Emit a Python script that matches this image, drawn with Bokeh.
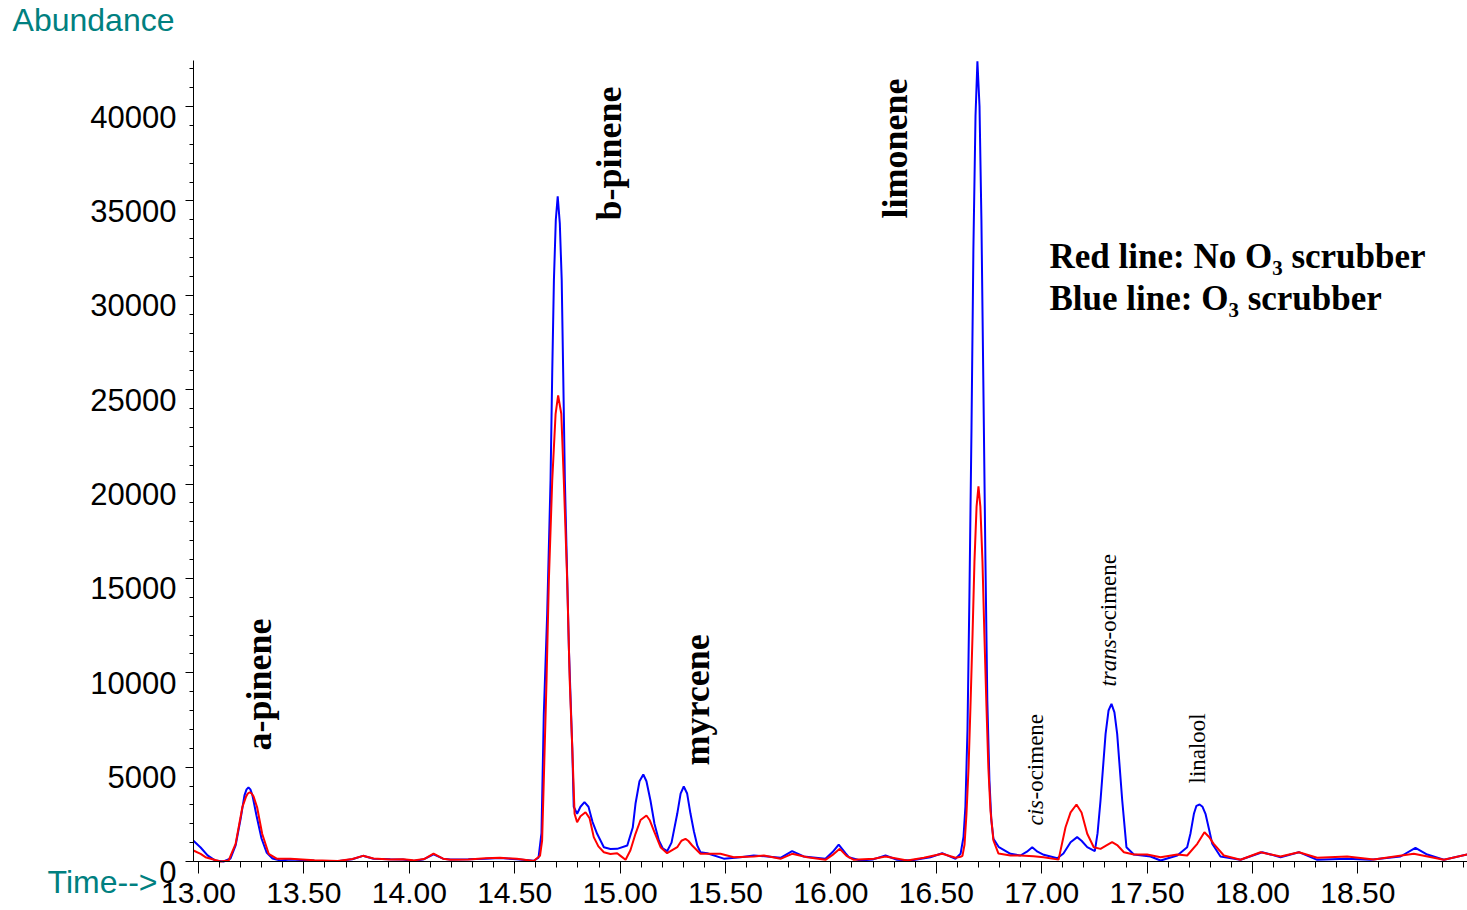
import numpy as np
from bokeh.plotting import figure
from bokeh.models import Range1d, FixedTicker, NumeralTickFormatter
from bokeh.core.properties import value
from bokeh.embed import file_html
from bokeh.resources import INLINE

# ---- data (retention time in min, abundance) ----
blue_time = [12.976, 13.010, 13.043, 13.080, 13.119, 13.152, 13.176, 13.200, 13.218, 13.228, 13.237,
             13.246, 13.256, 13.275, 13.299, 13.323, 13.351, 13.389, 13.436, 13.550, 13.660, 13.730,
             13.780, 13.830, 13.910, 13.970, 14.020, 14.070, 14.115, 14.160, 14.195, 14.280,
             14.360, 14.430, 14.510, 14.590, 14.613, 14.627, 14.638, 14.654, 14.670, 14.678,
             14.686, 14.695, 14.704, 14.714, 14.723, 14.730, 14.738, 14.757, 14.773, 14.780,
             14.796, 14.812, 14.831, 14.850, 14.869, 14.891, 14.923, 14.954, 14.986, 15.034,
             15.060, 15.073, 15.092, 15.110, 15.125, 15.144, 15.163, 15.184, 15.202, 15.223,
             15.244, 15.271, 15.287, 15.302, 15.318, 15.334, 15.350, 15.366, 15.381, 15.413,
             15.492, 15.571, 15.634, 15.698, 15.761, 15.816, 15.871, 15.974, 16.008, 16.037,
             16.069, 16.085, 16.140, 16.197, 16.259, 16.314, 16.378, 16.472, 16.528, 16.591,
             16.615, 16.629, 16.638, 16.648, 16.657, 16.667, 16.676, 16.686, 16.695, 16.705,
             16.714, 16.723, 16.733, 16.742, 16.752, 16.761, 16.771, 16.797, 16.852, 16.899,
             16.930, 16.955, 16.980, 17.010, 17.074, 17.103, 17.137, 17.168, 17.189, 17.216,
             17.252, 17.265, 17.279, 17.303, 17.317, 17.331, 17.345, 17.358, 17.382, 17.402,
             17.437, 17.516, 17.564, 17.643, 17.690, 17.706, 17.722, 17.734, 17.749, 17.763,
             17.777, 17.794, 17.809, 17.848, 17.943, 18.046, 18.133, 18.220, 18.307, 18.449,
             18.560, 18.702, 18.773, 18.829, 18.908, 19.019]
blue_abund = [1100, 740, 320, 50, 0, 160, 850, 2280, 3500, 3820, 3920,
              3820, 3500, 2440, 1220, 480, 160, 50, 100, 40, 20, 120,
              300, 150, 120, 100, 30, 120, 380, 150, 100, 120,
              150, 180, 120, 40, 200, 1500, 7800, 13100, 20200, 25900,
              30800, 34000, 35240, 33800, 30800, 25900, 20200, 11300, 6056, 2900,
              2527, 2900, 3142, 2900, 2100, 1467, 758, 660, 670, 848,
              1800, 3057, 4250, 4610, 4250, 3230, 2000, 1113, 700, 546,
              1000, 2527, 3600, 3973, 3600, 2527, 1600, 848, 493, 440,
              150, 228, 318, 265, 196, 546, 265, 143, 500, 900,
              450, 228, 53, 100, 318, 90, 53, 228, 440, 143,
              408, 1300, 2900, 7000, 14000, 23000, 32500, 39500, 42400, 40000,
              34000, 25500, 16000, 8500, 4300, 2200, 1200, 758, 408, 318,
              520, 758, 520, 355, 175, 420, 1023, 1290, 1100, 758,
              546, 1500, 3230, 6765, 8000, 8355, 7900, 6765, 3230, 758,
              370, 265, 53, 318, 758, 1500, 2527, 2950, 3020, 2900,
              2527, 1700, 937, 265, 90, 493, 228, 493, 90, 143,
              90, 265, 726, 370, 90, 370]

red_time = [12.976, 13.010, 13.033, 13.104, 13.143, 13.176, 13.208, 13.226, 13.234, 13.243, 13.252,
            13.261, 13.278, 13.302, 13.333, 13.373, 13.436, 13.550, 13.660, 13.730, 13.780, 13.830,
            13.910, 13.970, 14.020, 14.070, 14.115, 14.160, 14.195, 14.280, 14.360, 14.430,
            14.510, 14.590, 14.620, 14.630, 14.638, 14.651, 14.662, 14.678, 14.694, 14.706,
            14.721, 14.733, 14.749, 14.761, 14.773, 14.784, 14.796, 14.812, 14.836, 14.855,
            14.875, 14.897, 14.923, 14.954, 14.986, 15.002, 15.026, 15.049, 15.073, 15.097,
            15.125, 15.140, 15.160, 15.192, 15.223, 15.271, 15.291, 15.310, 15.323, 15.342,
            15.381, 15.476, 15.539, 15.634, 15.682, 15.761, 15.816, 15.888, 15.974, 16.008,
            16.042, 16.074, 16.109, 16.204, 16.259, 16.362, 16.441, 16.528, 16.591, 16.615,
            16.624, 16.634, 16.643, 16.653, 16.662, 16.672, 16.681, 16.691, 16.700, 16.709,
            16.719, 16.728, 16.738, 16.747, 16.757, 16.771, 16.795, 16.852, 16.899, 16.961,
            17.009, 17.080, 17.113, 17.137, 17.165, 17.189, 17.216, 17.247, 17.279, 17.307,
            17.334, 17.360, 17.390, 17.437, 17.500, 17.564, 17.643, 17.690, 17.738, 17.772,
            17.794, 17.816, 17.864, 17.943, 18.038, 18.133, 18.220, 18.307, 18.449, 18.575,
            18.765, 18.908, 19.019]
red_abund = [583, 400, 228, 0, 53, 937, 2877, 3450, 3600, 3670, 3600,
             3450, 2877, 1467, 408, 143, 143, 60, 30, 130, 300, 160,
             100, 120, 60, 130, 420, 150, 90, 110, 170, 200,
             140, 30, 300, 1113, 4290, 9590, 14890, 20190, 23720, 24690,
             23720, 20190, 14890, 9590, 6056, 2527, 2082, 2400, 2612, 2300,
             1290, 800, 493, 400, 440, 300, 90, 600, 1467, 2200,
             2437, 2200, 1642, 758, 440, 758, 1100, 1202, 1100, 848,
             408, 408, 228, 265, 318, 143, 408, 228, 90, 350,
             670, 300, 90, 143, 265, 53, 196, 408, 196, 250,
             300, 900, 2500, 4950, 8200, 12050, 15900, 18800, 19870, 18800,
             15900, 12050, 8200, 4950, 2700, 1113, 420, 318, 318, 280,
             230, 100, 1817, 2600, 3020, 2600, 1467, 758, 670, 850,
             1023, 850, 493, 370, 370, 228, 370, 318, 937, 1553,
             1300, 937, 318, 90, 493, 265, 493, 196, 265, 106,
             408, 90, 370]

x_major_ticks = [13.0, 13.5, 14.0, 14.5, 15.0, 15.5, 16.0, 16.5, 17.0, 17.5, 18.0, 18.5]
x_minor_ticks = [round(13.0 + 0.1 * i, 1) for i in range(61)]
y_major_ticks = [0, 5000, 10000, 15000, 20000, 25000, 30000, 35000, 40000]
y_tick_labels = ["0", "5000", "10000", "15000", "20000", "25000", "30000", "35000", "40000"]
y_minor_ticks = list(range(0, 43000, 1000))

# axis extents (time axis starts slightly before 13.00; abundance axis ends at ~42440)
t_axis_start, t_axis_end = 12.976, 19.02
a_axis_end = 42440

# peak names: label, time, abundance where the rotated text begins
big_names = ["a-pinene", "b-pinene", "myrcene", "limonene"]
big_name_t = [13.285, 14.945, 15.367, 16.306]
big_name_y = [5880, 33960, 5086, 34066]

TEAL = "#008080"
SERIF = "Liberation Serif"
SANS = "Liberation Sans"

# frame covers the whole canvas; axes are pinned at t=12.976 and abundance=0
p = figure(width=1467, height=910,
           x_range=Range1d(12.0607, 19.0199), y_range=Range1d(-2596, 45616),
           output_backend="svg", toolbar_location=None,
           min_border=0, min_border_left=0, min_border_right=0,
           min_border_top=0, min_border_bottom=0)
p.outline_line_color = None
p.grid.visible = False
p.background_fill_color = "white"
p.border_fill_color = "white"

xa = p.xaxis[0]
xa.fixed_location = 0
xa.bounds = (t_axis_start, t_axis_end)
xa.ticker = FixedTicker(ticks=x_major_ticks, minor_ticks=x_minor_ticks)
xa.formatter = NumeralTickFormatter(format="0.00")
xa.major_tick_out = 12
xa.major_tick_in = 0
xa.minor_tick_out = 6
xa.minor_tick_in = 0
xa.major_label_standoff = 9
xa.major_label_text_font = SANS
xa.major_label_text_font_size = "30px"
xa.major_label_text_color = "black"
xa.axis_line_color = "black"

ya = p.yaxis[0]
ya.fixed_location = t_axis_start
ya.bounds = (0, a_axis_end)
ya.ticker = FixedTicker(ticks=y_major_ticks, minor_ticks=y_minor_ticks)
ya.major_label_overrides = {v: "" for v in y_major_ticks}
ya.major_tick_out = 8
ya.major_tick_in = 0
ya.minor_tick_out = 4
ya.minor_tick_in = 0
ya.axis_line_color = "black"

# abundance tick labels sit just below their ticks, as in the original software
p.text(x=[t_axis_start] * len(y_major_ticks), y=y_major_ticks, text=y_tick_labels,
       x_offset=-17, y_offset=10, text_align="right", text_baseline="middle",
       text_font=value(SANS), text_font_size="31px", text_color="black")

p.line(blue_time, blue_abund, line_color="#0000FF", line_width=2)
p.line(red_time, red_abund, line_color="#FF0000", line_width=2)

# rotated bold peak names
p.text(x=big_name_t, y=big_name_y, text=big_names, angle=np.pi / 2,
       text_align="left", text_baseline="middle",
       text_font=value(SERIF), text_font_style="bold", text_font_size="36px",
       text_color="black")

# smaller peak names (italic prefixes)
p.text(x=[16.971, 17.317], y=[1907, 9270], text=["cis", "trans"], angle=np.pi / 2,
       text_align="left", text_baseline="middle",
       text_font=value(SERIF), text_font_style="italic", text_font_size="23px",
       text_color="black")
p.text(x=[16.971, 17.317], y=[1907, 9270], text=["-ocimene", "-ocimene"], angle=np.pi / 2,
       y_offset=[-26, -47],
       text_align="left", text_baseline="middle",
       text_font=value(SERIF), text_font_size="23px", text_color="black")
p.text(x=[17.739], y=[4132], text=["linalool"], angle=np.pi / 2,
       text_align="left", text_baseline="middle",
       text_font=value(SERIF), text_font_size="23px", text_color="black")

# legend text
p.text(x=[17.037, 17.037], y=[32079, 29854],
       text=["Red line: No O\u2083 scrubber", "Blue line: O\u2083 scrubber"],
       text_align="left", text_baseline="middle",
       text_font=value(SERIF), text_font_style="bold", text_font_size="35px",
       text_color="black")

# axis captions
p.text(x=[12.118, 12.284], y=[44609, -1060], text=["Abundance", "Time-->"],
       text_align="left", text_baseline="middle",
       text_font=value(SANS), text_font_size="32px", text_color=TEAL)

open("out.html", "w").write(file_html(p, INLINE))
